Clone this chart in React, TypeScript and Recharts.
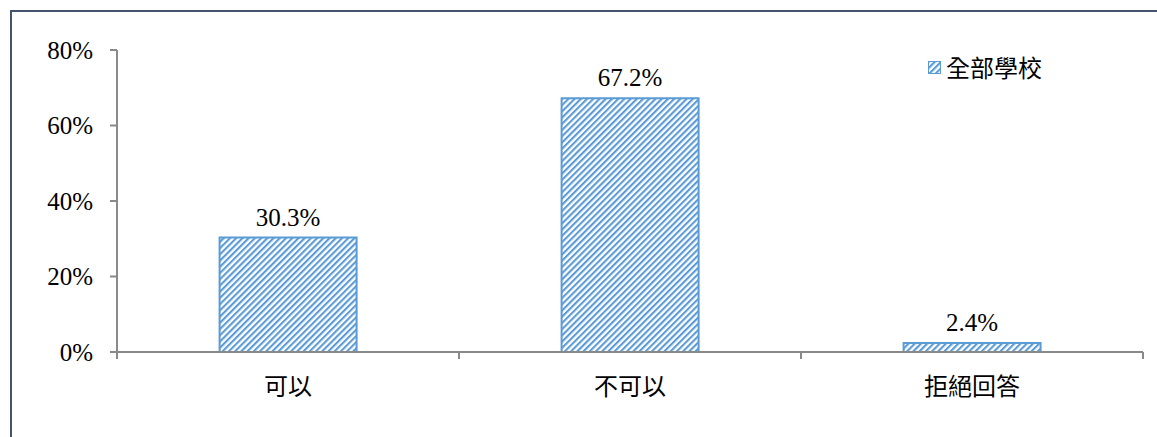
import React from 'react';
import { BarChart, Bar, XAxis, YAxis, LabelList, Legend } from 'recharts';

const categories = ['可以', '不可以', '拒絕回答'];
const values = [0.303, 0.672, 0.024];
const yTicks = [0, 0.2, 0.4, 0.6, 0.8];
const seriesName = '全部學校';

const data = categories.map((c, i) => ({ name: c, v: values[i] }));

const BLUE = '#5b9bd5';
const AXIS = '#898989';
const SERIF = 'Times New Roman, Liberation Serif, serif';
const CJK = 'Noto Sans CJK TC, Noto Sans CJK SC, sans-serif';
const X_TICK_SIZE = 6;
const X_TICK_MARGIN = 20;
const BOUNDARY_TICK = 7;

const PatternDef = ({ id }: { id: string }) => (
  <pattern id={id} patternUnits="userSpaceOnUse" width={4.4} height={4.4} patternTransform="rotate(45)">
    <rect x={0} y={0} width={4.4} height={4.4} fill="#ffffff" />
    <rect x={0} y={0} width={2.1} height={4.4} fill={BLUE} />
  </pattern>
);

const LegendContent = () => (
  <div style={{ display: 'flex', alignItems: 'center' }}>
    <svg width={13} height={13} style={{ marginRight: 5 }}>
      <defs>
        <PatternDef id="hatchLegend" />
      </defs>
      <rect x={0.5} y={0.5} width={12} height={12} fill="url(#hatchLegend)" stroke={BLUE} strokeWidth={1} />
    </svg>
    <span style={{ fontFamily: CJK, fontSize: 24, color: '#000', lineHeight: '24px' }}>{seriesName}</span>
  </div>
);

const CategoryTick = (props: any) => {
  const { x, y, payload, index } = props;
  const half = payload && payload.offset ? payload.offset : 0;
  const axisY = y - X_TICK_SIZE - X_TICK_MARGIN;
  const last = index === categories.length - 1;
  return (
    <g>
      <line x1={x - half} x2={x - half} y1={axisY} y2={axisY + BOUNDARY_TICK} stroke={AXIS} strokeWidth={2} />
      {last && (
        <line x1={x + half} x2={x + half} y1={axisY} y2={axisY + BOUNDARY_TICK} stroke={AXIS} strokeWidth={2} />
      )}
      <text x={x} y={y} dy="0.71em" textAnchor="middle" fontFamily={CJK} fontSize={24} fill="#000">
        {payload.value}
      </text>
    </g>
  );
};

const pct = (v: number) => `${Math.round(v * 100)}%`;

export default function App() {
  return (
    <div style={{ position: 'absolute', left: 0, top: 0, width: 1157, height: 437, background: '#fff' }}>
      <div style={{ position: 'absolute', left: 10, top: 10, width: 1147, height: 1.5, background: '#44546a' }} />
      <div style={{ position: 'absolute', left: 10, top: 10, width: 1.5, height: 427, background: '#44546a' }} />
      <BarChart
        width={1157}
        height={437}
        data={data}
        margin={{ top: 50, right: 14, bottom: 31, left: 0 }}
        barCategoryGap="30%"
      >
        <defs>
          <PatternDef id="hatch" />
        </defs>
        <XAxis
          dataKey="name"
          height={30}
          tickLine={false}
          tickSize={X_TICK_SIZE}
          axisLine={{ stroke: AXIS, strokeWidth: 2 }}
          tick={<CategoryTick />}
          tickMargin={X_TICK_MARGIN}
          interval={0}
        />
        <YAxis
          width={117}
          domain={[0, 0.8]}
          ticks={yTicks}
          tickFormatter={pct}
          axisLine={{ stroke: AXIS, strokeWidth: 2 }}
          tickLine={{ stroke: AXIS, strokeWidth: 2 }}
          tickSize={7}
          tickMargin={17}
          tick={{ fontFamily: SERIF, fontSize: 25, fill: '#000' }}
        />
        <Legend
          content={<LegendContent />}
          wrapperStyle={{ position: 'absolute', left: 928, top: 55, width: 160 }}
        />
        <Bar
          dataKey="v"
          name={seriesName}
          fill="url(#hatch)"
          stroke={BLUE}
          strokeWidth={2}
          isAnimationActive={false}
        >
          <LabelList
            dataKey="v"
            position="top"
            offset={12}
            formatter={(v: number) => `${(v * 100).toFixed(1)}%`}
            fontFamily={SERIF}
            fontSize={25}
            fill="#000"
          />
        </Bar>
      </BarChart>
    </div>
  );
}
